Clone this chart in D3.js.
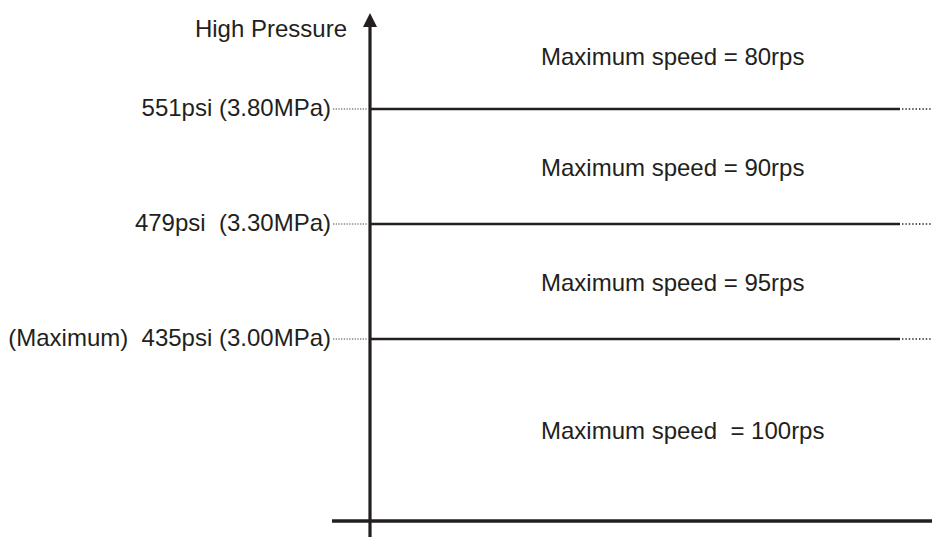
<!DOCTYPE html>
<html>
<head>
<meta charset="utf-8">
<script src="https://cdn.jsdelivr.net/npm/d3@7"></script>
<style>
  html, body { margin: 0; padding: 0; background: #fff; }
  svg { display: block; }
  text { font-family: "Liberation Sans", Arial, Helvetica, sans-serif; fill: #231f20; }
</style>
</head>
<body>
<svg id="chart" width="932" height="537"></svg>
<script>
// ---- data ----
const pressureRanks = [1, 2, 3];                       // order of the pressure limit lines (bottom -> top)
const pressureLabels = ["(Maximum)  435psi (3.00MPa)", "479psi  (3.30MPa)", "551psi (3.80MPa)"];
const speedZones = [0, 1, 2, 3];                       // zones between lines (bottom -> top)
const speedLabels = ["Maximum speed  = 100rps", "Maximum speed = 95rps", "Maximum speed = 90rps", "Maximum speed = 80rps"];
const axisTitle = "High Pressure";

// ---- layout ----
const W = 932, H = 537;
const axisX = 370, baseY = 521, topY = 3;
const fontSize = 24;
const ink = "#231f20";

const svg = d3.select("#chart");

// rank scale: rank 1..3 -> pressure lines
const y = d3.scaleLinear().domain([1, 3]).range([339, 109]);
// zone boundaries: zone i lies between boundary i and i+1
const bounds = [baseY, y(1), y(2), y(3), topY];

// speed labels (centered in their zones)
svg.append("g").selectAll("text").data(speedZones).join("text")
  .attr("x", 541)
  .attr("y", d => (bounds[d] + bounds[d + 1]) / 2 + 1)
  .attr("dy", "0.35em")
  .attr("font-size", fontSize)
  .style("white-space", "pre")
  .attr("xml:space", "preserve")
  .text(d => speedLabels[d]);

// pressure lines: solid part
svg.append("g").selectAll("line").data(pressureRanks).join("line")
  .attr("x1", axisX + 1).attr("x2", 900)
  .attr("y1", d => y(d)).attr("y2", d => y(d))
  .attr("stroke", ink).attr("stroke-width", 2.5);

// pressure lines: right dotted extension
svg.append("g").selectAll("line").data(pressureRanks).join("line")
  .attr("x1", 902).attr("x2", 932)
  .attr("y1", d => y(d)).attr("y2", d => y(d))
  .attr("stroke", ink).attr("stroke-width", 1.3)
  .attr("stroke-dasharray", "1.4,2");

// left dotted leaders
svg.append("g").selectAll("line").data(pressureRanks).join("line")
  .attr("x1", 333).attr("x2", axisX - 2)
  .attr("y1", d => y(d)).attr("y2", d => y(d))
  .attr("stroke", "#444").attr("stroke-width", 1)
  .attr("stroke-dasharray", "1.3,1.4");

// pressure labels
svg.append("g").selectAll("text").data(pressureRanks).join("text")
  .attr("x", 331)
  .attr("y", d => y(d) + 7)
  .attr("text-anchor", "end")
  .attr("font-size", fontSize)
  .style("white-space", "pre")
  .attr("xml:space", "preserve")
  .text((d, i) => pressureLabels[i]);

// axis title
svg.append("text")
  .attr("x", 347).attr("y", 37)
  .attr("text-anchor", "end")
  .attr("font-size", fontSize)
  .text(axisTitle);

// bottom axis
svg.append("line")
  .attr("x1", 332).attr("x2", W)
  .attr("y1", baseY).attr("y2", baseY)
  .attr("stroke", ink).attr("stroke-width", 3.5);

// vertical axis
svg.append("line")
  .attr("x1", axisX).attr("x2", axisX)
  .attr("y1", 25).attr("y2", H)
  .attr("stroke", ink).attr("stroke-width", 3.2);

// arrowhead
svg.append("path")
  .attr("d", d3.line()([[axisX, 13], [axisX - 7, 27], [axisX + 7, 27]]) + "Z")
  .attr("fill", ink);
</script>
</body>
</html>
